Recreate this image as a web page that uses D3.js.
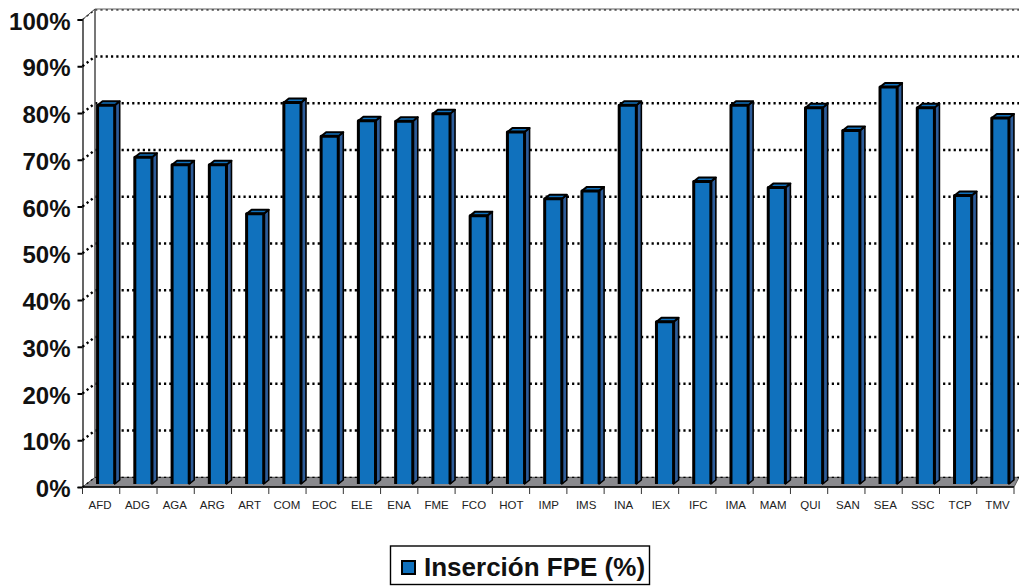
<!DOCTYPE html>
<html>
<head>
    <title>Inserción FPE</title>
    <script src="https://d3js.org/d3.v7.min.js"></script>
    <style>
        body { margin: 0; padding: 0; background: #fff; overflow: hidden; }
        text { font-family: "Liberation Sans", Arial, sans-serif; fill: #111; }
        .y-axis text { font-size: 24px; font-weight: bold; }
        .x-axis text { font-size: 11.5px; fill: #222; }
        .grid { stroke: #000; stroke-dasharray: 2.2 3.1; fill: none; }
    </style>
</head>
<body>
    <div id="chart"></div>
    <script>
        const categories = ['AFD', 'ADG', 'AGA', 'ARG', 'ART', 'COM', 'EOC', 'ELE', 'ENA', 'FME', 'FCO', 'HOT', 'IMP',
            'IMS', 'INA', 'IEX', 'IFC', 'IMA', 'MAM', 'QUI', 'SAN', 'SEA', 'SSC', 'TCP', 'TMV'];
        const insercion = [81, 69.9, 68.3, 68.3, 57.8, 81.6, 74.4, 77.7, 77.6, 79.2, 57.4, 75.3, 61,
            62.7, 81, 34.7, 64.7, 81, 63.4, 80.5, 75.6, 84.9, 80.5, 61.7, 78.3];
        const yTicks = [0, 10, 20, 30, 40, 50, 60, 70, 80, 90, 100];
        const seriesName = 'Inserción FPE (%)';

        const width = 1019;
        const height = 587;
        const blue = '#1071bd';
        const blueDark = '#2d5c99';

        // wall depth of the fake 3D box, and how far the bars sit into it
        const wallDx = 12.5, wallDy = -9.7;
        const barDx = 5, barDy = -3, barDepthX = 5, barDepthY = -4;

        const svg = d3.select('#chart')
            .append('svg')
            .attr('width', width)
            .attr('height', height);

        const x = d3.scaleBand().domain(categories).range([82.5, 1014]).paddingInner(0.54).paddingOuter(0.27);
        const y = d3.scaleLinear().domain([0, 100]).range([487, 19.5]);
        // labels run a touch wider than the bands in the original
        const xLabels = d3.scalePoint().domain(categories).range([99.5, 997]);

        // floor
        svg.append('path')
            .attr('d', d3.line()([
                [x.range()[0], y(0)],
                [x.range()[0] + wallDx, y(0) + wallDy],
                [width, y(0) + wallDy],
                [x.range()[1], y(0)]
            ]) + 'Z')
            .attr('fill', '#8a8a8e')
            .attr('stroke', '#555')
            .attr('stroke-width', 1);

        // back wall grid, with the dotted return down to the front axis
        svg.append('g').selectAll('path')
            .data(yTicks)
            .join('path')
            .attr('class', 'grid')
            .attr('stroke-width', d => d === 100 ? 1.2 : d === 0 ? 1.2 : 2.4)
            .attr('d', d => d3.line()([
                [x.range()[0], y(d)],
                [x.range()[0] + wallDx, y(d) + wallDy],
                [width, y(d) + wallDy]
            ]));

        // top and back edge of the wall
        svg.append('line')
            .attr('x1', x.range()[0] + wallDx).attr('x2', width)
            .attr('y1', y(100) + wallDy - 0.8).attr('y2', y(100) + wallDy - 0.8)
            .attr('stroke', '#666').attr('stroke-width', 1.2);
        svg.append('line')
            .attr('x1', x.range()[0] + wallDx).attr('x2', x.range()[0] + wallDx)
            .attr('y1', y(100) + wallDy - 0.8).attr('y2', y(0) + wallDy)
            .attr('stroke', '#555').attr('stroke-width', 1.6);
        svg.append('line')
            .attr('x1', x.range()[0]).attr('x2', x.range()[0] + wallDx)
            .attr('y1', y(100)).attr('y2', y(100) + wallDy - 0.8)
            .attr('stroke', '#444').attr('stroke-width', 1);

        // bars
        const rows = categories.map((c, i) => ({ name: c, value: insercion[i] }));
        const bar = svg.append('g').selectAll('g')
            .data(rows)
            .join('g')
            .attr('transform', `translate(${barDx},${barDy})`)
            .attr('stroke', '#000')
            .attr('stroke-linejoin', 'round');

        // side face
        bar.append('path')
            .attr('fill', blueDark)
            .attr('stroke-width', 1.6)
            .attr('d', d => {
                const r = x(d.name) + x.bandwidth();
                return d3.line()([
                    [r, y(d.value)], [r + barDepthX, y(d.value) + barDepthY],
                    [r + barDepthX, y(0) + barDepthY], [r, y(0)]
                ]) + 'Z';
            });

        // top face
        bar.append('path')
            .attr('fill', blue)
            .attr('stroke-width', 2)
            .attr('d', d => {
                const l = x(d.name), r = l + x.bandwidth();
                return d3.line()([
                    [l, y(d.value)], [l + barDepthX, y(d.value) + barDepthY],
                    [r + barDepthX, y(d.value) + barDepthY], [r, y(d.value)]
                ]) + 'Z';
            });

        // front face, left open at the bottom so it sits on the floor
        bar.append('path')
            .attr('fill', blue)
            .attr('stroke-width', 3)
            .attr('d', d => {
                const l = x(d.name), r = l + x.bandwidth();
                return d3.line()([[l, y(0)], [l, y(d.value)], [r, y(d.value)], [r, y(0)]]);
            });

        // front axes
        const yAxis = svg.append('g')
            .attr('class', 'y-axis')
            .attr('transform', `translate(${x.range()[0]},0)`)
            .call(d3.axisLeft(y).tickValues(yTicks).tickFormat(d => d + '%').tickSize(5).tickPadding(7));
        yAxis.select('.domain').attr('stroke', '#000').attr('stroke-width', 1.2);
        yAxis.selectAll('.tick line').attr('stroke', '#000').attr('stroke-width', 2);
        yAxis.selectAll('.tick text').attr('dy', '0.4em').attr('fill', '#111');

        const xAxis = svg.append('g')
            .attr('class', 'x-axis')
            .attr('transform', `translate(0,${y(0)})`);
        xAxis.call(d3.axisBottom(xLabels).tickSize(0).tickPadding(14));
        xAxis.select('.domain').remove();
        xAxis.selectAll('.tick text').attr('fill', '#222');
        svg.append('line')
            .attr('x1', x.range()[0]).attr('x2', x.range()[1])
            .attr('y1', y(0)).attr('y2', y(0))
            .attr('stroke', '#000').attr('stroke-width', 1.4);

        // category separators sit on the band edges, not the centres
        const step = x.step();
        svg.append('g').selectAll('line')
            .data(d3.range(categories.length + 1))
            .join('line')
            .attr('x1', i => x.range()[0] + i * step)
            .attr('x2', i => x.range()[0] + i * step)
            .attr('y1', y(0))
            .attr('y2', y(0) + 7)
            .attr('stroke', '#333')
            .attr('stroke-width', 1);

        // legend
        const legend = svg.append('g');
        legend.append('rect')
            .attr('x', 390.5).attr('y', 546)
            .attr('width', 259).attr('height', 38.5)
            .attr('fill', '#fff')
            .attr('stroke', '#000')
            .attr('stroke-width', 1.4);
        legend.append('rect')
            .attr('x', 402).attr('y', 561)
            .attr('width', 13).attr('height', 13)
            .attr('fill', blue)
            .attr('stroke', '#000')
            .attr('stroke-width', 2);
        legend.append('text')
            .attr('x', 424).attr('y', 576)
            .attr('font-size', 26)
            .attr('font-weight', 'bold')
            .text(seriesName);
    </script>
</body>
</html>
